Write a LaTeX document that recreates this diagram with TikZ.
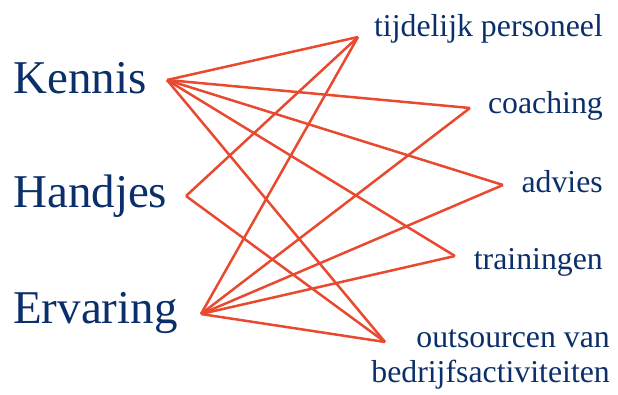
\documentclass[tikz,border=0pt]{standalone}
\usepackage{fontspec}
\setmainfont{Liberation Serif}
\definecolor{labelblue}{HTML}{0B2F6B}
\definecolor{linkred}{HTML}{E8492F}

\begin{document}
\begin{tikzpicture}[
  x=1pt, y=-1pt,
  source/.style={anchor=base west, inner sep=0pt, text=labelblue, font=\fontsize{47}{50}\selectfont},
  target/.style={anchor=base east, inner sep=0pt, text=labelblue, font=\fontsize{31.8}{35}\selectfont, align=right},
  link/.style={draw=linkred, line width=2.5pt}
]
\useasboundingbox (0,0) rectangle (618,394);
\node[source] (kennis) at (13,93) {Kennis};
\node[source] (handjes) at (13,207) {Handjes};
\node[source] (ervaring) at (13,323) {Ervaring};
\node[target] (personeel) at (603,36) {tijdelijk personeel};
\node[target] (coaching) at (603,113) {coaching};
\node[target] (advies) at (603,192) {advies};
\node[target] (trainingen) at (603,269) {trainingen};
\node[target] (outsourcen) at (610,382) {outsourcen van\\bedrijfsactiviteiten};
% end points of the lines
\coordinate (kennis-pt) at (167,80);
\coordinate (handjes-pt) at (186,196);
\coordinate (ervaring-pt) at (201,314);
\coordinate (personeel-pt) at (358,37);
\coordinate (coaching-pt) at (470,108);
\coordinate (advies-pt) at (503,185);
\coordinate (trainingen-pt) at (455,256);
\coordinate (outsourcen-pt) at (385,342);
\draw[link] (kennis-pt) -- (personeel-pt);
\draw[link] (kennis-pt) -- (coaching-pt);
\draw[link] (kennis-pt) -- (advies-pt);
\draw[link] (kennis-pt) -- (trainingen-pt);
\draw[link] (kennis-pt) -- (outsourcen-pt);
\draw[link] (handjes-pt) -- (personeel-pt);
\draw[link] (handjes-pt) -- (outsourcen-pt);
\draw[link] (ervaring-pt) -- (personeel-pt);
\draw[link] (ervaring-pt) -- (coaching-pt);
\draw[link] (ervaring-pt) -- (advies-pt);
\draw[link] (ervaring-pt) -- (trainingen-pt);
\draw[link] (ervaring-pt) -- (outsourcen-pt);
\end{tikzpicture}
\end{document}
